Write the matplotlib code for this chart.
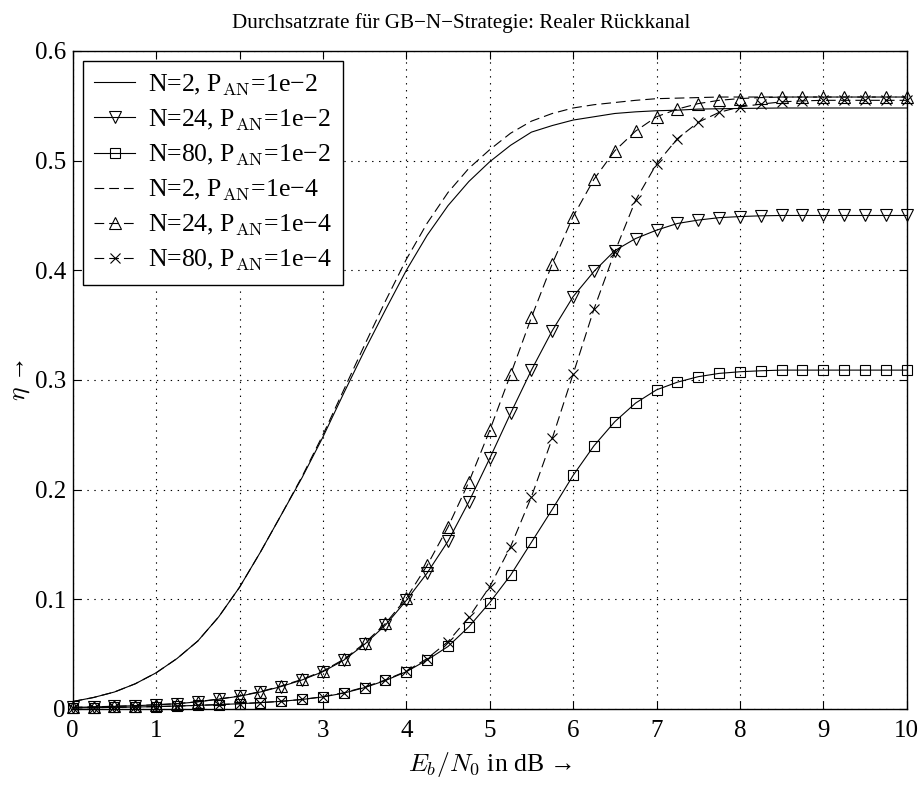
import matplotlib
matplotlib.use("Agg")
import matplotlib.pyplot as plt
import numpy as np

plt.rcParams["font.family"] = ["Liberation Serif", "DejaVu Serif"]
plt.rcParams["mathtext.fontset"] = "cm"
plt.rcParams["lines.scale_dashes"] = False

# Eb/N0 grid in dB (0 : 0.25 : 10)
ebn0 = np.arange(41) * 0.25

# N=2, P_AN=1e-2
eta_n2_p2 = [0.0068, 0.0105, 0.0155, 0.023, 0.033, 0.046, 0.062, 0.084, 0.111,
             0.143, 0.177, 0.211, 0.248, 0.288, 0.327, 0.364, 0.400, 0.432, 0.459,
             0.481, 0.499, 0.514, 0.526, 0.532, 0.537, 0.540, 0.543, 0.5445, 0.5455,
             0.546, 0.547, 0.5473, 0.5476, 0.5478, 0.548, 0.548, 0.548, 0.548, 0.548,
             0.548, 0.548]
# N=24, P_AN=1e-2
eta_n24_p2 = [0.0014, 0.0019, 0.0024, 0.003, 0.0038, 0.0048, 0.0065, 0.0089, 0.0117,
              0.0155, 0.0205, 0.0265, 0.034, 0.0445, 0.059, 0.0765, 0.099, 0.124,
              0.153, 0.189, 0.2285, 0.2695, 0.309, 0.345, 0.376, 0.399, 0.418, 0.429,
              0.4366, 0.4427, 0.4458, 0.448, 0.449, 0.4497, 0.450, 0.450, 0.450, 0.450,
              0.450, 0.450, 0.450]
# N=80, P_AN=1e-2
eta_n80_p2 = [0.001, 0.0012, 0.0015, 0.0018, 0.0022, 0.0027, 0.0033, 0.004, 0.0048,
              0.0058, 0.007, 0.0087, 0.011, 0.0145, 0.0195, 0.026, 0.034, 0.0447, 0.057,
              0.075, 0.097, 0.122, 0.152, 0.182, 0.213, 0.240, 0.262, 0.279, 0.291,
              0.298, 0.303, 0.306, 0.3075, 0.3084, 0.309, 0.309, 0.309, 0.309, 0.309,
              0.309, 0.309]
# N=2, P_AN=1e-4
eta_n2_p4 = [0.0068, 0.0105, 0.0155, 0.023, 0.033, 0.046, 0.062, 0.084, 0.111,
             0.143, 0.177, 0.212, 0.250, 0.291, 0.332, 0.372, 0.410, 0.443, 0.471,
             0.493, 0.510, 0.525, 0.536, 0.543, 0.548, 0.551, 0.553, 0.555, 0.5565,
             0.557, 0.5575, 0.558, 0.558, 0.558, 0.558, 0.558, 0.558, 0.558, 0.558,
             0.558, 0.558]
# N=24, P_AN=1e-4
eta_n24_p4 = [0.0015, 0.002, 0.0025, 0.003, 0.0039, 0.0049, 0.0067, 0.0091, 0.012,
              0.0158, 0.021, 0.027, 0.0346, 0.0453, 0.060, 0.078, 0.101, 0.131, 0.166,
              0.207, 0.254, 0.305, 0.357, 0.406, 0.449, 0.483, 0.509, 0.527, 0.540,
              0.547, 0.552, 0.555, 0.5566, 0.5575, 0.558, 0.558, 0.558, 0.558, 0.558,
              0.558, 0.558]
# N=80, P_AN=1e-4
eta_n80_p4 = [0.001, 0.0012, 0.0015, 0.0018, 0.0022, 0.0027, 0.0033, 0.004, 0.0048,
              0.0058, 0.007, 0.0087, 0.0112, 0.0148, 0.020, 0.0265, 0.0345, 0.046,
              0.0614, 0.0836, 0.1115, 0.148, 0.1935, 0.2468, 0.3054, 0.3646, 0.4169,
              0.464, 0.497, 0.520, 0.535, 0.544, 0.549, 0.5515, 0.5536, 0.5545, 0.555,
              0.555, 0.555, 0.555, 0.555]

labels = ["N=2, P$_{\\rm AN}$=1e\u22122", "N=24, P$_{\\rm AN}$=1e\u22122",
          "N=80, P$_{\\rm AN}$=1e\u22122", "N=2, P$_{\\rm AN}$=1e\u22124",
          "N=24, P$_{\\rm AN}$=1e\u22124", "N=80, P$_{\\rm AN}$=1e\u22124"]

dash = (0, (7, 3.6))
series = [
    (eta_n2_p2, "-", None, 0),
    (eta_n24_p2, "-", "v", 9),
    (eta_n80_p2, "-", "s", 6.8),
    (eta_n2_p4, dash, None, 0),
    (eta_n24_p4, dash, "^", 9),
    (eta_n80_p4, dash, "x", 6.5),
]

fig = plt.figure(figsize=(9.22, 7.89), dpi=100)
ax = fig.add_axes([0.0789, 0.1014, 0.9045, 0.834])

for (vals, ls, mk, ms), lab in zip(series, labels):
    ax.plot(ebn0, vals, linestyle=ls, marker=mk, markersize=ms, color="black",
            linewidth=0.8, markerfacecolor="none", markeredgewidth=0.8,
            label=lab, clip_on=False)

ax.set_xlim(0, 10)
ax.set_ylim(0, 0.6)
ax.set_xticks(range(11))
ax.set_yticks([0, 0.1, 0.2, 0.3, 0.4, 0.5, 0.6])
ax.set_yticklabels(["0", "0.1", "0.2", "0.3", "0.4", "0.5", "0.6"])
ax.tick_params(direction="in", length=6, width=0.8, top=True, right=True,
               labelsize=18, pad=5)
ax.tick_params(axis="x", pad=8)
ax.grid(True, linestyle=(0, (1, 4)), color="black", linewidth=0.8)
for sp in ax.spines.values():
    sp.set_linewidth(1.0)

# title is centred on the figure, not on the axes
fig.text(0.5, 1 - 23 / 789, "Durchsatzrate f\u00fcr GB\u2212N\u2212Strategie: Realer R\u00fcckkanal",
         fontsize=15.2, ha="center", va="center")
ax.set_xlabel("$E_b/N_0$ in dB \u2192", fontsize=18.5, labelpad=6)
ax.set_ylabel("$\\eta$ \u2192", fontsize=18.5, labelpad=2)

leg = ax.legend(loc="upper left", fontsize=18.5, handlelength=1.6, handletextpad=0.5,
                labelspacing=0.38, borderpad=0.45, borderaxespad=0.38, fancybox=False,
                framealpha=1, edgecolor="black")
leg.get_frame().set_linewidth(1.0)

fig.savefig("out.png", dpi=100)
